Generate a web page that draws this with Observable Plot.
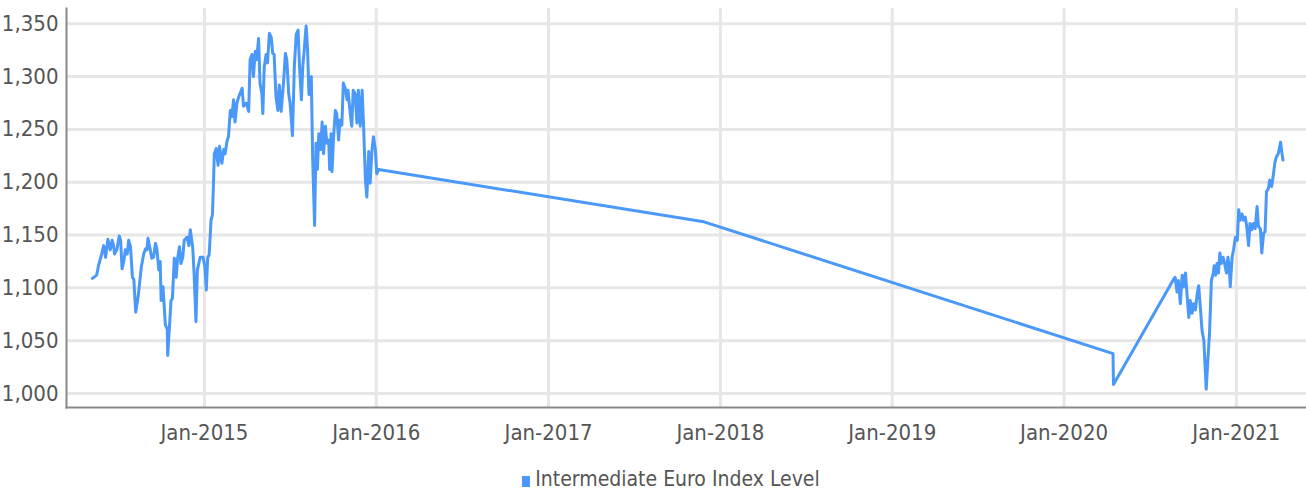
<!DOCTYPE html>
<html>
<head>
<meta charset="utf-8">
<script src="https://cdn.jsdelivr.net/npm/d3@7"></script>
<script src="https://cdn.jsdelivr.net/npm/@observablehq/plot@0.6"></script>
<style>
  html, body { margin: 0; padding: 0; background: #fff; overflow: hidden; }
  body { width: 1306px; height: 490px; font-family: "Liberation Sans Narrow", "DejaVu Sans Condensed", "Roboto", sans-serif; }
  #legend { position: absolute; left: 0; top: 466px; width: 1306px; box-sizing: border-box; padding-left: 36px; text-align: center; font-size: 21px; color: #555; line-height: 26px; }
  #legend .sw { display: inline-block; width: 8px; height: 11px; background: #4a98f7; margin-right: 5px; vertical-align: -1px; }
</style>
</head>
<body>
<div id="chart"></div>
<div id="legend"><span class="sw"></span>Intermediate Euro Index Level</div>
<script>
const seriesName = "Intermediate Euro Index Level";
const dates = [
  "2014-05-08","2014-05-17","2014-05-21","2014-05-26","2014-06-01","2014-06-05","2014-06-10","2014-06-15","2014-06-19","2014-06-22",
  "2014-06-24","2014-06-29","2014-07-04","2014-07-07","2014-07-10","2014-07-14","2014-07-17","2014-07-21","2014-07-24","2014-07-28",
  "2014-08-01","2014-08-04","2014-08-08","2014-08-13","2014-08-20","2014-08-25","2014-08-29","2014-09-01","2014-09-03","2014-09-08",
  "2014-09-11","2014-09-15","2014-09-19","2014-09-22","2014-09-26","2014-09-29","2014-10-01","2014-10-05","2014-10-10","2014-10-14",
  "2014-10-15","2014-10-18","2014-10-22","2014-10-25","2014-10-29","2014-11-02","2014-11-05","2014-11-09","2014-11-12","2014-11-16",
  "2014-11-19","2014-11-25","2014-11-29","2014-12-02","2014-12-05","2014-12-07","2014-12-10","2014-12-14","2014-12-17","2014-12-23",
  "2014-12-29","2015-01-02","2015-01-05","2015-01-08","2015-01-11","2015-01-15","2015-01-18","2015-01-20","2015-01-22","2015-01-26",
  "2015-01-30","2015-02-02","2015-02-07","2015-02-11","2015-02-14","2015-02-18","2015-02-21","2015-02-25","2015-02-28","2015-03-04",
  "2015-03-07","2015-03-11","2015-03-15","2015-03-22","2015-03-25","2015-03-31","2015-04-05","2015-04-08","2015-04-12","2015-04-15",
  "2015-04-19","2015-04-22","2015-04-26","2015-04-29","2015-05-03","2015-05-05","2015-05-08","2015-05-12","2015-05-15","2015-05-19",
  "2015-05-23","2015-05-26","2015-05-29","2015-06-02","2015-06-06","2015-06-09","2015-06-13","2015-06-18","2015-06-22","2015-06-25",
  "2015-06-29","2015-07-02","2015-07-07","2015-07-11","2015-07-15","2015-07-19","2015-07-22","2015-07-26","2015-07-29","2015-08-01",
  "2015-08-05","2015-08-08","2015-08-11","2015-08-14","2015-08-16","2015-08-19","2015-08-23","2015-08-26","2015-08-29","2015-09-01",
  "2015-09-05","2015-09-08","2015-09-11","2015-09-15","2015-09-18","2015-09-22","2015-09-24","2015-09-27","2015-09-29","2015-10-02",
  "2015-10-06","2015-10-09","2015-10-13","2015-10-16","2015-10-20","2015-10-23","2015-10-27","2015-10-31","2015-11-02","2015-11-06",
  "2015-11-10","2015-11-13","2015-11-17","2015-11-21","2015-11-24","2015-11-28","2015-12-02","2015-12-05","2015-12-09","2015-12-12",
  "2015-12-16","2015-12-19","2015-12-23","2015-12-26","2015-12-30","2016-01-02","2016-01-06",
  "2017-11-27","2020-04-14","2020-04-15","2020-08-22",
  "2020-08-24","2020-08-28","2020-08-31","2020-09-04","2020-09-08","2020-09-11","2020-09-15","2020-09-18","2020-09-22","2020-09-25",
  "2020-09-29","2020-10-02","2020-10-06","2020-10-10","2020-10-13","2020-10-17","2020-10-20","2020-10-24","2020-10-29","2020-11-01",
  "2020-11-05","2020-11-09","2020-11-13","2020-11-15","2020-11-18","2020-11-21","2020-11-24","2020-11-27","2020-11-30","2020-12-04",
  "2020-12-07","2020-12-11","2020-12-14","2020-12-17","2020-12-19","2020-12-23","2020-12-26","2020-12-30","2021-01-03","2021-01-06",
  "2021-01-09","2021-01-13","2021-01-16","2021-01-20","2021-01-23","2021-01-27","2021-01-30","2021-02-03","2021-02-06","2021-02-10",
  "2021-02-14","2021-02-17","2021-02-21","2021-02-24","2021-02-28","2021-03-03","2021-03-06","2021-03-10","2021-03-13","2021-03-17",
  "2021-03-20","2021-03-24","2021-03-27","2021-03-31","2021-04-05","2021-04-08","2021-04-10"
];
const values = [
  1109,1112,1121,1129,1140,1129,1146,1136,1145,1140,
  1132,1136,1149,1145,1118,1126,1136,1132,1145,1139,
  1110,1108,1077,1091,1120,1132,1137,1136,1147,1136,
  1128,1129,1142,1137,1117,1125,1088,1101,1065,1061,
  1036,1058,1088,1090,1128,1110,1128,1139,1123,1129,
  1145,1148,1140,1155,1145,1139,1114,1068,1117,1129,
  1129,1120,1098,1129,1131,1164,1169,1196,1227,1232,
  1216,1234,1218,1231,1227,1239,1243,1268,1262,1278,
  1257,1275,1281,1289,1272,1275,1267,1316,1321,1300,
  1324,1316,1336,1294,1284,1265,1309,1321,1313,1341,
  1337,1322,1321,1281,1268,1292,1267,1294,1322,1316,
  1284,1275,1244,1310,1340,1344,1310,1278,1310,1325,
  1348,1327,1283,1299,1300,1221,1159,1237,1212,1246,
  1231,1257,1227,1253,1237,1240,1212,1246,1210,1240,
  1268,1265,1240,1259,1254,1294,1289,1278,1287,1268,
  1253,1287,1284,1256,1287,1253,1287,1254,1202,1186,
  1229,1199,1231,1243,1231,1208,1212,
  1162.5,1037.7,1008.5,1109,
  1110,1096,1107,1085,1112,1101,1114,1095,1072,1088,
  1076,1085,1079,1095,1102,1079,1060,1050,1004,1028,
  1057,1107,1114,1121,1112,1123,1114,1133,1123,1129,
  1123,1114,1129,1120,1101,1129,1136,1148,1145,1174,
  1164,1170,1164,1167,1158,1140,1161,1155,1161,1156,
  1177,1158,1156,1133,1152,1153,1191,1194,1202,1196,
  1205,1219,1224,1227,1238,1227,1221
];
const yTicks = [1000, 1050, 1100, 1150, 1200, 1250, 1300, 1350];
const xTickYears = ["2015","2016","2017","2018","2019","2020","2021"];

const data = dates.map((d, i) => ({date: new Date(d + "T00:00:00Z"), value: values[i], series: seriesName}));
const xTicks = xTickYears.map(y => new Date(y + "-01-01T00:00:00Z"));
const fmt = d3.utcFormat("%b-%Y");
const textColor = "#555";
const font = '"Liberation Sans Narrow", "DejaVu Sans Condensed", "Roboto", sans-serif';

const chart = Plot.plot({
  width: 1306,
  height: 455,
  marginTop: 8,
  marginBottom: 48,
  marginLeft: 66,
  marginRight: 0,
  style: {fontFamily: font, fontSize: "22px", color: textColor, background: "#fff", overflow: "visible"},
  x: {type: "utc", domain: [new Date("2014-03-14T00:00:00Z"), new Date("2021-05-30T00:00:00Z")]},
  y: {domain: [986.7, 1364.5]},
  marks: [
    Plot.gridY(yTicks, {stroke: "#e6e6e6", strokeOpacity: 1, strokeWidth: 3, x1: () => new Date("2014-03-16T00:00:00Z")}),
    Plot.gridX(xTicks, {stroke: "#e6e6e6", strokeOpacity: 1, strokeWidth: 3}),
    Plot.axisY(yTicks, {tickSize: 0, tickPadding: 8, tickFormat: d3.format(","), fill: textColor, fontSize: 22, label: null}),
    Plot.axisX(xTicks, {tickSize: 0, tickPadding: 17, tickFormat: fmt, fill: textColor, fontSize: 22, label: null}),
    Plot.frame({anchor: "left", stroke: "#888", strokeWidth: 2}),
    Plot.frame({anchor: "bottom", stroke: "#888", strokeWidth: 2}),
    Plot.line(data, {x: "date", y: "value", stroke: "#4a98f7", strokeWidth: 3, strokeLinejoin: "round", strokeLinecap: "round"})
  ]
});
document.getElementById("chart").appendChild(chart);
</script>
</body>
</html>
